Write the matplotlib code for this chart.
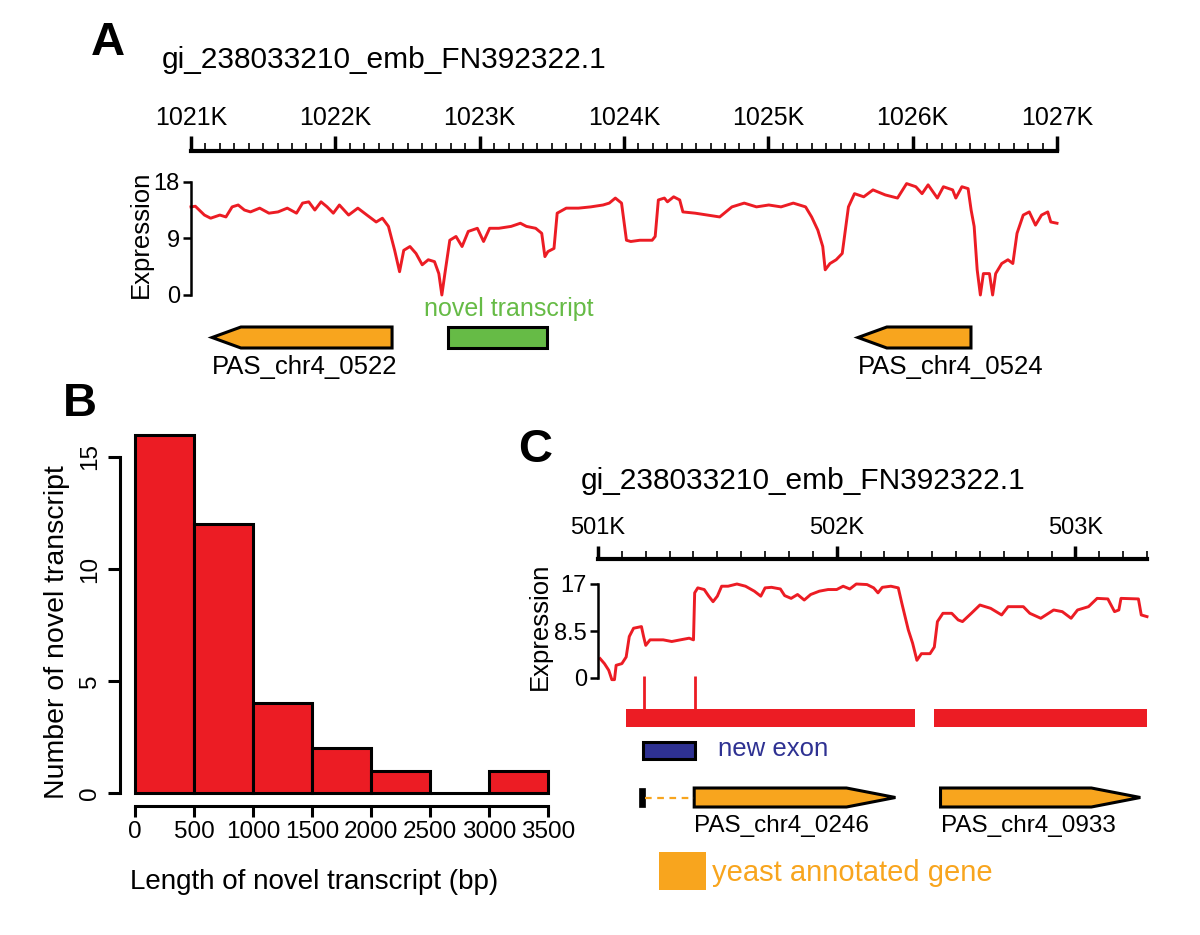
import numpy as np
import matplotlib
matplotlib.use("Agg")
import matplotlib.pyplot as plt
from matplotlib.patches import Polygon, Rectangle
from matplotlib.ticker import MultipleLocator, FuncFormatter

plt.rcParams['font.family'] = ['Liberation Sans', 'DejaVu Sans']

# ---- data ----
title = "gi_238033210_emb_FN392322.1"

# panel A: expression along 1021K-1027K (offset from 1021000 bp)
a_start, a_end = 1021000, 1027000
a_offsets = [0, 30, 93, 136, 200, 242, 285, 327, 370, 412,
             476, 540, 603, 667, 731, 773, 816, 858, 901, 943,
             986, 1028, 1092, 1156, 1219, 1283, 1326, 1368, 1411, 1445,
             1474, 1517, 1559, 1602, 1644, 1687, 1717, 1738, 1759, 1793,
             1836, 1878, 1921, 1984, 2027, 2069, 2133, 2218, 2282, 2324,
             2388, 2430, 2452, 2473, 2515, 2537, 2600, 2685, 2770, 2855,
             2898, 2940, 2983, 3017, 3047, 3110, 3195, 3216, 3238, 3280,
             3301, 3344, 3386, 3408, 3493, 3578, 3663, 3748, 3833, 3918,
             4003, 4088, 4173, 4258, 4300, 4343, 4377, 4394, 4427, 4470,
             4512, 4555, 4597, 4661, 4725, 4810, 4895, 4958, 5022, 5065,
             5107, 5171, 5213, 5277, 5299, 5341, 5384, 5405, 5426, 5447,
             5469, 5490, 5532, 5554, 5575, 5617, 5660, 5694, 5723, 5766,
             5808, 5851, 5893, 5936, 5957, 6000]
a_expr = [14.0, 14.1, 12.7, 12.2, 12.7, 12.4, 14.0, 14.3, 13.5, 13.2,
          13.8, 13.0, 13.2, 13.8, 13.0, 14.6, 14.8, 13.5, 14.8, 14.0,
          13.0, 14.3, 12.7, 13.8, 12.7, 11.6, 12.2, 10.9, 7.1, 3.7,
          7.1, 7.7, 6.6, 4.8, 5.6, 5.3, 3.4, 0.0, 3.4, 8.7,
          9.3, 7.7, 10.1, 10.6, 8.5, 10.6, 10.6, 10.9, 11.4, 10.9,
          10.6, 9.8, 6.1, 6.9, 7.4, 13.0, 13.8, 13.8, 14.0, 14.3,
          14.6, 15.4, 14.6, 8.7, 8.5, 8.7, 8.7, 9.3, 15.1, 15.4,
          14.8, 15.6, 15.1, 13.2, 13.0, 12.7, 12.4, 14.0, 14.6, 14.0,
          14.3, 14.0, 14.6, 14.0, 12.4, 10.3, 7.7, 4.0, 5.0, 5.6,
          6.6, 14.0, 16.1, 15.6, 16.7, 15.9, 15.4, 17.7, 17.2, 16.1,
          17.5, 15.4, 17.2, 16.7, 15.4, 17.2, 16.9, 13.5, 10.9, 4.0,
          0.0, 3.4, 3.4, 0.0, 3.4, 5.0, 5.6, 5.0, 9.8, 12.7,
          13.2, 11.1, 12.7, 13.2, 11.6, 11.4]
a_yticks = [0, 9, 18]

a_gene_names = ["PAS_chr4_0522", "PAS_chr4_0524"]
a_gene_start = [1021146, 1025621]
a_gene_end = [1022393, 1026404]
novel_start, novel_end = 1022781, 1023467

# panel B: histogram of novel transcript lengths
hist_edges = [0, 500, 1000, 1500, 2000, 2500, 3000, 3500]
hist_counts = [16, 12, 4, 2, 1, 0, 1]

# panel C: expression along 501K-503.3K (offset from 501000 bp)
c_start, c_end = 501000, 503300
c_offsets = [9, 27, 45, 58, 69, 76, 100, 118, 131, 149,
             182, 191, 200, 218, 273, 309, 345, 382, 400, 405,
             418, 445, 464, 482, 500, 518, 545, 582, 618, 655,
             682, 700, 727, 764, 782, 809, 836, 864, 891, 927,
             964, 1000, 1027, 1055, 1082, 1127, 1155, 1173, 1191, 1227,
             1258, 1273, 1300, 1318, 1336, 1355, 1391, 1409, 1422, 1445,
             1482, 1509, 1527, 1564, 1600, 1645, 1691, 1718, 1782, 1809,
             1855, 1909, 1945, 1982, 2009, 2055, 2091, 2136, 2164, 2182,
             2191, 2264, 2276, 2300]
c_expr = [3.5, 2.6, 1.4, -0.3, -0.3, 2.3, 2.6, 3.8, 7.5, 9.0,
          9.3, 7.5, 5.9, 6.9, 6.9, 6.6, 6.9, 7.2, 6.9, 15.4,
          16.3, 16.0, 14.8, 13.8, 14.8, 16.6, 16.6, 17.0, 16.6, 15.7,
          14.8, 16.3, 16.4, 16.1, 14.9, 14.4, 15.1, 14.1, 15.1, 15.7,
          16.0, 16.0, 16.6, 16.1, 17.0, 16.9, 16.3, 15.4, 16.4, 16.6,
          16.3, 13.5, 8.7, 6.3, 3.2, 4.4, 4.4, 5.6, 10.2, 11.7,
          11.7, 10.5, 10.2, 11.7, 13.2, 12.6, 11.4, 12.9, 12.9, 11.7,
          10.8, 12.3, 12.0, 10.8, 12.3, 12.9, 14.4, 14.3, 12.0, 12.3,
          14.4, 14.3, 11.4, 11.1]
c_yticks = [0, 8.5, 17]
c_ytick_labels = ["0", "8.5", "17"]

c_tx_start = [501117, 502406]
c_tx_end = [502330, 503300]
c_junctions = [501193, 501407]
new_exon_start, new_exon_end = 501189, 501407
c_gene_names = ["PAS_chr4_0246", "PAS_chr4_0933"]
c_gene_start = [501403, 502435]
c_gene_end = [502246, 503272]
upstream_exon = (501172, 501197)

RED = "#EC1C24"
ORANGE = "#F8A51E"
GREEN = "#66BB46"
NAVY = "#2E3192"

W, H = 1200, 935
fig = plt.figure(figsize=(12, 9.35), dpi=100)


def px_axes(x0, y0, x1, y1):
    return fig.add_axes([x0 / W, 1 - y1 / H, (x1 - x0) / W, (y1 - y0) / H])


def ruler(ax, lo, hi, major_len, minor_len, fs, pad):
    ax.set_xlim(lo, hi)
    ax.set_ylim(0, 1)
    ax.patch.set_visible(False)
    for s in ['left', 'right', 'top']:
        ax.spines[s].set_visible(False)
    ax.spines['bottom'].set_linewidth(3)
    ax.set_yticks([])
    ax.xaxis.set_major_locator(MultipleLocator(1000))
    ax.xaxis.set_minor_locator(MultipleLocator(100))
    ax.xaxis.set_major_formatter(FuncFormatter(lambda v, p: "%dK" % round(v / 1000)))
    ax.tick_params(axis='x', which='both', direction='in', bottom=True, top=False,
                   labelbottom=False, labeltop=True)
    ax.tick_params(axis='x', which='major', length=major_len, width=2.5, labelsize=fs, pad=pad)
    ax.tick_params(axis='x', which='minor', length=minor_len, width=1.2)


def expr_axes(ax, lo, hi, ymax, ticks, labels, fs):
    ax.set_xlim(lo, hi)
    ax.set_ylim(0, ymax)
    ax.patch.set_visible(False)
    for s in ['right', 'top', 'bottom']:
        ax.spines[s].set_visible(False)
    ax.spines['left'].set_linewidth(1.8)
    ax.set_xticks([])
    ax.set_yticks(ticks)
    ax.set_yticklabels(labels)
    ax.tick_params(axis='y', length=6, width=1.8, labelsize=fs, pad=2)


def arrow_poly(s, e, strand, yc, h, head):
    if strand < 0:
        pts = [(s, yc), (s + head, yc - h / 2), (e, yc - h / 2), (e, yc + h / 2), (s + head, yc + h / 2)]
    else:
        pts = [(s, yc - h / 2), (e - head, yc - h / 2), (e, yc), (e - head, yc + h / 2), (s, yc + h / 2)]
    return Polygon(pts, closed=True, facecolor=ORANGE, edgecolor='black', lw=2.2,
                   joinstyle='miter', clip_on=False)


# ---------------- panel A ----------------
fig.text(108 / W, 1 - 43 / H, "A", fontsize=34, fontweight='bold', ha='center', va='center')
fig.text(162 / W, 1 - 60 / H, title, fontsize=21.5, ha='left', va='center')

axr = px_axes(191, 136, 1057, 151)
ruler(axr, a_start, a_end, 11, 6, 18, 4)

axe = px_axes(191, 181.7, 1057, 295)
expr_axes(axe, a_start, a_end, 18, a_yticks, [str(t) for t in a_yticks], 17)
axe.plot(a_start + np.array(a_offsets), a_expr, color=RED, lw=2.1, clip_on=False)
fig.text(141 / W, 1 - 234 / H, "Expression", rotation=90, fontsize=18.5, ha='center', va='center')

axg = px_axes(191, 295, 1057, 385)
axg.set_xlim(a_start, a_end)
axg.set_ylim(385, 295)
axg.axis('off')
for name, s, e in zip(a_gene_names, a_gene_start, a_gene_end):
    axg.add_patch(arrow_poly(s, e, -1, 337.5, 21, 200))
    axg.text(s, 367, name, fontsize=18.5, ha='left', va='center')
axg.add_patch(Rectangle((novel_start, 327), novel_end - novel_start, 21,
                        facecolor=GREEN, edgecolor='black', lw=2.2, clip_on=False))
axg.text((novel_start + novel_end) / 2 + 80, 309, "novel transcript", color=GREEN,
         fontsize=18, ha='center', va='center')

# ---------------- panel B ----------------
fig.text(80 / W, 1 - 404 / H, "B", fontsize=34, fontweight='bold', ha='center', va='center')
axh = px_axes(135, 430, 548, 793)
axh.bar(hist_edges[:-1], hist_counts, width=np.diff(hist_edges), align='edge',
        color=RED, edgecolor='black', lw=2.2, clip_on=False)
axh.set_xlim(hist_edges[0], hist_edges[-1])
axh.set_ylim(0, 363 / 22.4)
for s in ['right', 'top']:
    axh.spines[s].set_visible(False)
axh.spines['left'].set_position(('outward', 11))
axh.spines['bottom'].set_position(('outward', 9.5))
axh.spines['left'].set_bounds(0, 15)
axh.spines['bottom'].set_bounds(hist_edges[0], hist_edges[-1])
axh.spines['left'].set_linewidth(2.2)
axh.spines['bottom'].set_linewidth(2.2)
axh.set_xticks(hist_edges)
axh.set_yticks([0, 5, 10, 15])
axh.tick_params(axis='x', length=8, width=2.2, labelsize=17.5, pad=3)
axh.tick_params(axis='y', length=8.5, width=2.2, labelsize=17.5, pad=5, labelrotation=90)
for lab in axh.get_yticklabels():
    lab.set_va('center')
fig.text(314 / W, 1 - 882 / H, "Length of novel transcript (bp)", fontsize=20, ha='center', va='center')
fig.text(57 / W, 1 - 632 / H, "Number of novel transcript", fontsize=20.5, rotation=90,
         ha='center', va='center')

# ---------------- panel C ----------------
fig.text(535 / W, 1 - 450 / H, "C", fontsize=34, fontweight='bold', ha='center', va='center')
fig.text(581 / W, 1 - 481 / H, title, fontsize=21.5, ha='left', va='center')

axr2 = px_axes(598, 546, 1147, 559)
ruler(axr2, c_start, c_end, 9.5, 5.5, 17, 5)

axe2 = px_axes(598, 584, 1147, 678)
expr_axes(axe2, c_start, c_end, 17, c_yticks, c_ytick_labels, 17)
axe2.plot(c_start + np.array(c_offsets), c_expr, color=RED, lw=2.1, clip_on=False)
fig.text(540 / W, 1 - 626 / H, "Expression", rotation=90, fontsize=18.5, ha='center', va='center')

axt = px_axes(598, 676, 1147, 900)
axt.set_xlim(c_start, c_end)
axt.set_ylim(900, 676)
axt.axis('off')
axt.barh([718] * len(c_tx_start), np.array(c_tx_end) - np.array(c_tx_start), left=c_tx_start,
         height=18, color=RED, clip_on=False)
axt.vlines(c_junctions, 676, 709, color=RED, lw=2)
axt.add_patch(Rectangle((new_exon_start, 741.5), new_exon_end - new_exon_start, 17,
                        facecolor=NAVY, edgecolor='black', lw=2.2, clip_on=False))
axt.text(new_exon_end + 95, 749, "new exon", color=NAVY, fontsize=18.5, ha='left', va='center')

axt.add_patch(Rectangle((upstream_exon[0], 788), upstream_exon[1] - upstream_exon[0], 19,
                        facecolor='black', edgecolor='black', lw=0.5, clip_on=False))
axt.plot([upstream_exon[1], c_gene_start[0]], [797.5, 797.5], ls=(0, (3, 2.5)), color=ORANGE, lw=1.6)
for name, s, e in zip(c_gene_names, c_gene_start, c_gene_end):
    axt.add_patch(arrow_poly(s, e, 1, 797.5, 19, 205))
    axt.text(s, 826, name, fontsize=17.5, ha='left', va='center')

fig.add_artist(Rectangle((659 / W, 1 - 890 / H), 47 / W, 38 / H, transform=fig.transFigure,
                         facecolor=ORANGE, edgecolor='none'))
fig.text(712 / W, 1 - 873 / H, "yeast annotated gene", color=ORANGE, fontsize=21, ha='left', va='center')

fig.savefig("out.png", dpi=100)
